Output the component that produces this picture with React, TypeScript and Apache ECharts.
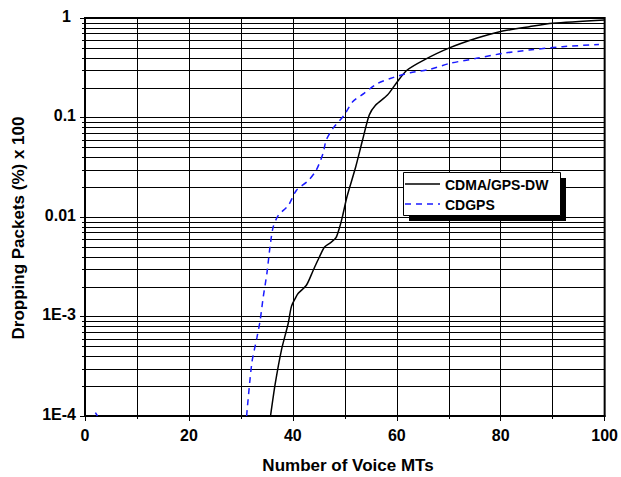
import React, { useEffect, useRef } from "react";
import * as echarts from "echarts";

// CDMA/GPS-DW (solid black)
const cdmaX = [35.7, 36.6, 37.8, 39.1, 39.7, 40.4, 41.0, 42.6, 43.9, 45.1, 46.1, 47.4, 48.3, 49.0, 49.6, 50.4, 52.1, 53.4, 54.7, 55.9, 58.2, 60.1, 62.0, 65.2, 69.9, 75.3, 79.8, 85.5, 90.0, 100];
const cdmaY = [1.0e-4, 2.1e-4, 4.6e-4, 8.5e-4, 1.25e-3, 1.5e-3, 1.7e-3, 2.06e-3, 2.9e-3, 3.96e-3, 5.0e-3, 5.6e-3, 6.2e-3, 7.9e-3, 0.0104, 0.0159, 0.032, 0.059, 0.106, 0.133, 0.168, 0.229, 0.30, 0.378, 0.495, 0.625, 0.728, 0.818, 0.884, 0.955];

// CDGPS (dashed blue)
const cdgpsX = [31.1, 32.1, 33.1, 33.7, 34.3, 35.0, 35.6, 36.2, 37.2, 39.1, 40.7, 42.9, 44.5, 45.8, 46.4, 47.7, 49.9, 51.5, 53.7, 56.3, 59.4, 62.6, 66.4, 70.2, 75.3, 80.4, 85.5, 91.9, 98.9];
const cdgpsY = [1.0e-4, 3.4e-4, 6.2e-4, 9.1e-4, 1.57e-3, 2.7e-3, 5.0e-3, 7.9e-3, 0.0104, 0.013, 0.0186, 0.023, 0.0295, 0.0435, 0.059, 0.0777, 0.106, 0.144, 0.175, 0.22, 0.253, 0.282, 0.305, 0.35, 0.393, 0.441, 0.477, 0.515, 0.543];

// small stub of the CDGPS curve near the origin
const cdgpsStubX = [2.0, 2.4];
const cdgpsStubY = [1.08e-4, 1.0e-4];

const seriesNames = ["CDMA/GPS-DW", "CDGPS"];
const xTitle = "Number of Voice MTs";
const yTitle = "Dropping Packets (%) x 100";

const minorMultipliers = [2, 3, 4, 5, 6, 7, 8, 9];
const decades = [1e-4, 1e-3, 1e-2, 1e-1];
const minorValues = decades.flatMap((d) => minorMultipliers.map((m) => +(d * m).toPrecision(3)));

const FONT = "'Liberation Sans', Arial, sans-serif";

function fmtY(v: number): string {
  const e = Math.round(Math.log10(v));
  if (e === 0) return "{one|1}";
  if (e === -1) return "0.1";
  if (e === -2) return "0.01";
  return "1E" + e;
}

export default function App() {
  const ref = useRef<HTMLDivElement>(null);
  useEffect(() => {
    if (!ref.current) return;
    const chart = echarts.init(ref.current, undefined, { renderer: "svg" });
    const zip = (xs: number[], ys: number[]) => xs.map((x, i) => [x, ys[i]]);
    chart.setOption({
      animation: false,
      backgroundColor: "#fff",
      grid: {
        left: 85,
        top: 18,
        right: 12,
        bottom: 61,
        show: true,
        borderColor: "#000",
        borderWidth: 2,
        backgroundColor: "transparent",
      },
      xAxis: {
        type: "value",
        min: 0,
        max: 100,
        interval: 20,
        axisLine: { show: true, onZero: false, lineStyle: { color: "#000", width: 2 } },
        axisTick: { show: true, inside: false, length: 5, lineStyle: { color: "#000", width: 1 } },
        minorTick: { show: true, splitNumber: 2, length: 3, lineStyle: { color: "#000", width: 1 } },
        splitLine: { show: true, lineStyle: { color: "#000", width: 1 } },
        minorSplitLine: { show: true, lineStyle: { color: "#000", width: 1 } },
        axisLabel: {
          color: "#000",
          fontSize: 16,
          fontWeight: "bold",
          fontFamily: FONT,
          margin: 11,
        },
      },
      yAxis: {
        type: "log",
        logBase: 10,
        min: 1e-4,
        max: 1,
        axisLine: { show: true, onZero: false, lineStyle: { color: "#000", width: 2 } },
        axisTick: { show: true, inside: false, length: 5, lineStyle: { color: "#000", width: 1 } },
        splitLine: { show: true, lineStyle: { color: "#000", width: 1 } },
        axisLabel: {
          color: "#000",
          fontSize: 16,
          fontWeight: "bold",
          fontFamily: FONT,
          margin: 9,
          padding: [0, 0, 4, 0],
          formatter: (v: number) => fmtY(v),
          rich: {
            one: {
              color: "#000",
              fontSize: 16,
              fontWeight: "bold",
              fontFamily: FONT,
              padding: [0, 5, 0, 0],
            },
          },
        },
      },
      series: [
        {
          type: "custom",
          coordinateSystem: "cartesian2d",
          silent: true,
          z: 1,
          data: minorValues.map((v) => [0, v]),
          encode: { x: 0, y: 1 },
          renderItem: (params: any, api: any) => {
            const v = api.value(1);
            const p0 = api.coord([0, v]);
            const p1 = api.coord([100, v]);
            const y = Math.round(p0[1]) + 0.5;
            return {
              type: "line",
              shape: { x1: p0[0] - 3, y1: y, x2: p1[0], y2: y },
              style: { stroke: "#000", lineWidth: 1 },
            };
          },
        },
        {
          name: seriesNames[0],
          type: "line",
          data: zip(cdmaX, cdmaY),
          showSymbol: false,
          smooth: 0.25,
          clip: true,
          z: 5,
          lineStyle: { color: "#000", width: 1.5, type: "solid" },
        },
        {
          name: seriesNames[1],
          type: "line",
          data: zip(cdgpsX, cdgpsY),
          showSymbol: false,
          smooth: 0.25,
          clip: true,
          z: 5,
          lineStyle: { color: "#1a1aff", width: 1.5, type: [6, 5] },
        },
        {
          type: "line",
          data: zip(cdgpsStubX, cdgpsStubY),
          showSymbol: false,
          clip: true,
          z: 5,
          lineStyle: { color: "#1a1aff", width: 1.5, type: [6, 5] },
        },
      ],
      graphic: [
        {
          type: "text",
          x: 348,
          y: 465,
          style: {
            text: xTitle,
            fill: "#000",
            font: `bold 17px ${FONT}`,
            textAlign: "center",
            textVerticalAlign: "middle",
          },
        },
        {
          type: "text",
          x: 18,
          y: 228,
          rotation: Math.PI / 2,
          style: {
            text: yTitle,
            fill: "#000",
            font: `bold 17px ${FONT}`,
            textAlign: "center",
            textVerticalAlign: "middle",
          },
        },
        {
          type: "group",
          z: 100,
          children: [
            { type: "rect", shape: { x: 409, y: 178, width: 157, height: 43 }, style: { fill: "#000" }, z: 100 },
            {
              type: "rect",
              shape: { x: 403.5, y: 172.5, width: 157, height: 43 },
              style: { fill: "#fff", stroke: "#000", lineWidth: 1 },
              z: 101,
            },
            {
              type: "line",
              shape: { x1: 405, y1: 184, x2: 440, y2: 184 },
              style: { stroke: "#000", lineWidth: 1.5 },
              z: 102,
            },
            {
              type: "line",
              shape: { x1: 405, y1: 204, x2: 440, y2: 204 },
              style: { stroke: "#1a1aff", lineWidth: 1.5, lineDash: [6, 5] },
              z: 102,
            },
            {
              type: "text",
              x: 445,
              y: 185,
              z: 102,
              style: {
                text: seriesNames[0],
                fill: "#000",
                font: `bold 14px ${FONT}`,
                textVerticalAlign: "middle",
              },
            },
            {
              type: "text",
              x: 445,
              y: 205,
              z: 102,
              style: {
                text: seriesNames[1],
                fill: "#000",
                font: `bold 14px ${FONT}`,
                textVerticalAlign: "middle",
              },
            },
          ],
        },
      ],
    });
    return () => chart.dispose();
  }, []);
  return <div ref={ref} style={{ position: "absolute", left: 0, top: 0, width: 621, height: 477 }} />;
}
